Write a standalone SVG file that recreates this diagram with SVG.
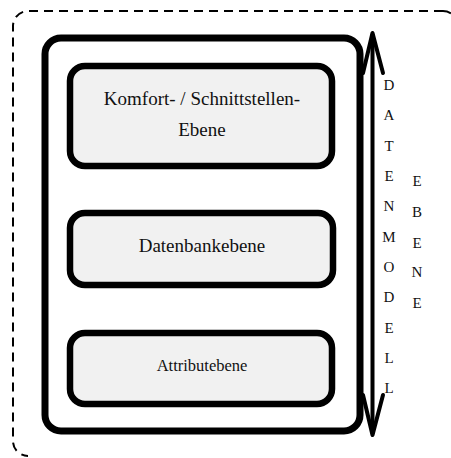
<svg xmlns="http://www.w3.org/2000/svg" width="451" height="458" viewBox="0 0 451 458" overflow="hidden" style="overflow:hidden">
  <style>
    .frame { fill: none; stroke: #000; stroke-width: 2; stroke-dasharray: 9 6; }
    .outer { fill: #fff; stroke: #000; stroke-width: 7; }
    .layer { fill: #f1f1f1; stroke: #000; stroke-width: 6.5; }
    .label { font-family: "Liberation Serif", "Times New Roman", serif; fill: #111; text-anchor: middle; }
    .axis { fill: none; stroke: #000; stroke-width: 4; stroke-linecap: round; stroke-linejoin: round; }
    .letter { font-family: "Liberation Serif", "Times New Roman", serif; font-size: 15px; fill: #111; text-anchor: middle; }
  </style>
  <defs>
    <clipPath id="page">
      <rect x="0" y="0" width="451" height="458"/>
    </clipPath>
  </defs>
  <rect width="451" height="458" fill="#fff"/>

  <!-- dashed boundary of the data model level; only its left and top sides and
       the two corners that touch the page edge fall inside the page -->
  <g clip-path="url(#page)">
    <path class="frame" d="M443,11 H28 A15,15 0 0 0 13,26 V441 A15,15 0 0 0 28,456"/>
    <path class="frame" d="M443,11 A15,15 0 0 1 451,13.3"/>
  </g>

  <!-- container -->
  <g id="container">
    <rect class="outer" x="45" y="38" width="315" height="393" rx="16"/>
  </g>

  <g id="komfort">
    <rect class="layer" x="70" y="66" width="262" height="100" rx="15"/>
    <text class="label" x="202" y="105" font-size="19">Komfort- / Schnittstellen-</text>
    <text class="label" x="202" y="136" font-size="19">Ebene</text>
  </g>

  <g id="datenbank">
    <rect class="layer" x="70" y="213" width="263" height="72" rx="15"/>
    <text class="label" x="202" y="252" font-size="19">Datenbankebene</text>
  </g>

  <g id="attribut">
    <rect class="layer" x="70" y="333" width="262" height="71" rx="15"/>
    <text class="label" x="202" y="371" font-size="16.5">Attributebene</text>
  </g>

  <!-- double-headed vertical axis -->
  <g id="connectors">
    <line class="axis" x1="372.5" y1="35" x2="372.5" y2="433"/>
    <polyline class="axis" points="363,73 372.5,33 383,73"/>
    <polyline class="axis" points="363,395 372.5,435 383,395"/>
  </g>

  <g id="axis-label">
    <text class="letter" x="389" y="90">D</text>
    <text class="letter" x="389" y="120">A</text>
    <text class="letter" x="389" y="151">T</text>
    <text class="letter" x="389" y="181">E</text>
    <text class="letter" x="389" y="211">N</text>
    <text class="letter" x="389" y="242">M</text>
    <text class="letter" x="389" y="272">O</text>
    <text class="letter" x="389" y="302">D</text>
    <text class="letter" x="389" y="333">E</text>
    <text class="letter" x="389" y="363">L</text>
    <text class="letter" x="389" y="393">L</text>

    <text class="letter" x="417" y="186">E</text>
    <text class="letter" x="417" y="217">B</text>
    <text class="letter" x="417" y="248">E</text>
    <text class="letter" x="417" y="277">N</text>
    <text class="letter" x="417" y="308">E</text>
  </g>
</svg>
